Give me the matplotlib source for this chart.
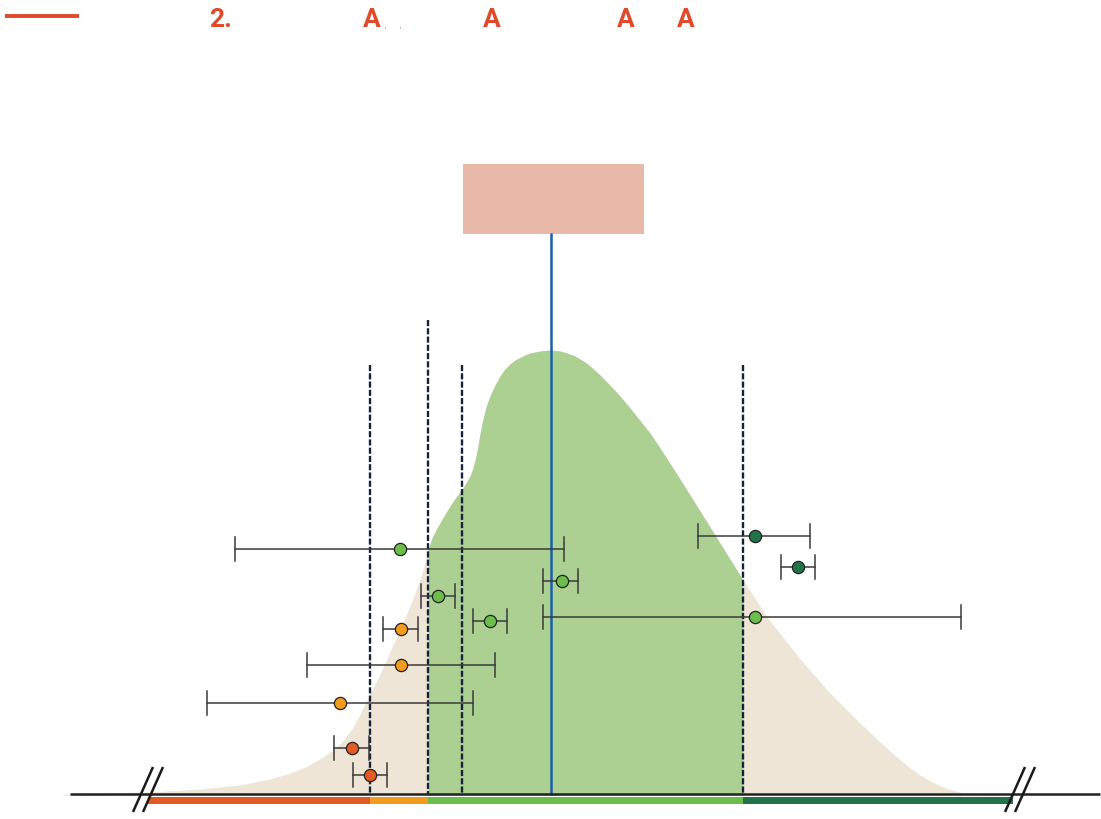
import matplotlib
matplotlib.use("Agg")
import matplotlib.pyplot as plt
import numpy as np

# ---------------- data (schematic units) ----------------
# density curve: x position and curve top (baseline = 795, smaller = taller)
curve_x = [63, 100, 150, 200, 240, 270, 290, 305, 320, 330, 340, 345, 353, 360,
           370, 378, 385, 392, 400, 405, 412, 416, 420, 424, 428, 432, 437, 444,
           450, 456, 463, 466, 470, 473, 476, 478, 480, 482, 485, 487, 490, 495,
           500, 505, 510, 515, 525, 530, 540, 550, 560, 567, 575, 585, 590, 600,
           605, 620, 630, 650, 660, 680, 710, 743, 767, 800, 830, 860, 880, 890,
           905, 920, 930, 945, 963, 1000]
curve_y = [794, 793, 792, 789, 785, 779, 773, 767, 759, 752, 744, 738, 727, 714,
           694, 678, 663, 647, 630, 618, 601, 590, 579, 566, 550, 538, 528, 516,
           506, 497, 488, 483, 476, 468, 456, 446, 434, 423, 411, 404, 396, 385,
           376, 369, 364, 360, 355, 353, 351, 350, 351, 353, 356, 362, 366, 375,
           380, 396, 408, 433, 448, 479, 527, 580, 617, 659, 693, 723, 742, 751,
           764, 775, 781, 788, 793, 794]
baseline = 795

green_lo, green_hi = 428, 743

# threshold (dashed) lines: x, top
thr_x = [370, 428, 462, 743]
thr_top = [365, 320, 365, 365]

# central estimate line
mean_x = 551
mean_top = 233

# estimates with intervals
pt_y = [536, 549, 567, 581, 596, 617, 621, 629, 665, 703, 748, 775]
pt_x = [755, 400, 798, 562, 438, 755, 490, 401, 401, 340, 352, 370]
pt_lo = [698, 235, 781, 543, 421, 543, 473, 383, 307, 207, 334, 353]
pt_hi = [810, 564, 815, 578, 455, 961, 507, 418, 495, 473, 369, 387]
pt_cat = ["dg", "lg", "dg", "lg", "lg", "lg", "lg", "or", "or", "or", "rd", "rd"]

# colour band under axis
band_edges = [148, 370, 428, 743, 1013]
band_cat = ["rd", "or", "lg", "dg"]

# title fragments
title_txt = ["2.", "A", ",", ",", "A", "A", "A"]
title_x = [209, 363, 385, 400, 483, 617, 677]
title_size = [19, 19, 4, 4, 19, 19, 19]

# ---------------- styles ----------------
cols = {"rd": "#E35A24", "or": "#F29B1D", "lg": "#6CBE4C", "dg": "#22734A"}
beige = "#EFE5D6"
green_fill = "#ACD092"
navy = "#16223A"
blue = "#1B5EA9"
red = "#E04A2A"

W, H = 1101, 819
fig = plt.figure(figsize=(W / 100, H / 100), dpi=100)
ax = fig.add_axes([0, 0, 1, 1])
ax.set_xlim(0, W)
ax.set_ylim(H, 0)
ax.axis("off")

cx = np.array(curve_x, float)
cy = np.array(curve_y, float)
ax.fill_between(cx, baseline, cy, color=beige, lw=0, zorder=1)
ax.fill_between(cx, baseline, cy, where=(cx >= green_lo) & (cx <= green_hi),
                color=green_fill, lw=0, zorder=2)

# pink box
ax.add_patch(plt.Rectangle((463, 164), 181, 70, color="#E8B9A9", lw=0, zorder=3))

# mean line
ax.plot([mean_x, mean_x], [mean_top, baseline], color=blue, lw=1.8, zorder=4,
        solid_capstyle="butt")

# threshold dashed lines
for x, t in zip(thr_x, thr_top):
    ax.plot([x, x], [t, baseline], color=navy, lw=1.7, zorder=5,
            dashes=(2.6, 0.9))

# axis line
ax.plot([70, 1100], [baseline - 1, baseline - 1], color="#222222", lw=1.8, zorder=6,
        solid_capstyle="butt")

# colour band
for i, c in enumerate(band_cat):
    ax.add_patch(plt.Rectangle((band_edges[i], 796.5), band_edges[i + 1] - band_edges[i], 7,
                               color=cols[c], lw=0, zorder=6))

# break marks
for bx in [148, 1020]:
    for off in [-5, 5]:
        ax.plot([bx + off - 10, bx + off + 10], [812, 767], color="#1A1A1A", lw=1.8,
                zorder=8, solid_capstyle="butt")

# error bars
for y, x, lo, hi, c in zip(pt_y, pt_x, pt_lo, pt_hi, pt_cat):
    ax.plot([lo, hi], [y, y], color="#3A3A3A", lw=1.1, zorder=9)
    ax.plot([lo, lo], [y - 12, y + 12], color="#3A3A3A", lw=1.1, zorder=9)
    ax.plot([hi, hi], [y - 12, y + 12], color="#3A3A3A", lw=1.1, zorder=9)
    ax.plot([x], [y], marker="o", ms=8.8, mfc=cols[c], mec="#222222", mew=0.9,
            zorder=10, ls="none")

# title
ax.plot([5, 79], [16, 16], color=red, lw=2.8, solid_capstyle="butt")
for t, x, s in zip(title_txt, title_x, title_size):
    ax.text(x, 27, t, color=red, fontsize=s, fontweight="bold",
            family=["Roboto", "DejaVu Sans"], ha="left", va="baseline")

fig.savefig("out.png", dpi=100)
